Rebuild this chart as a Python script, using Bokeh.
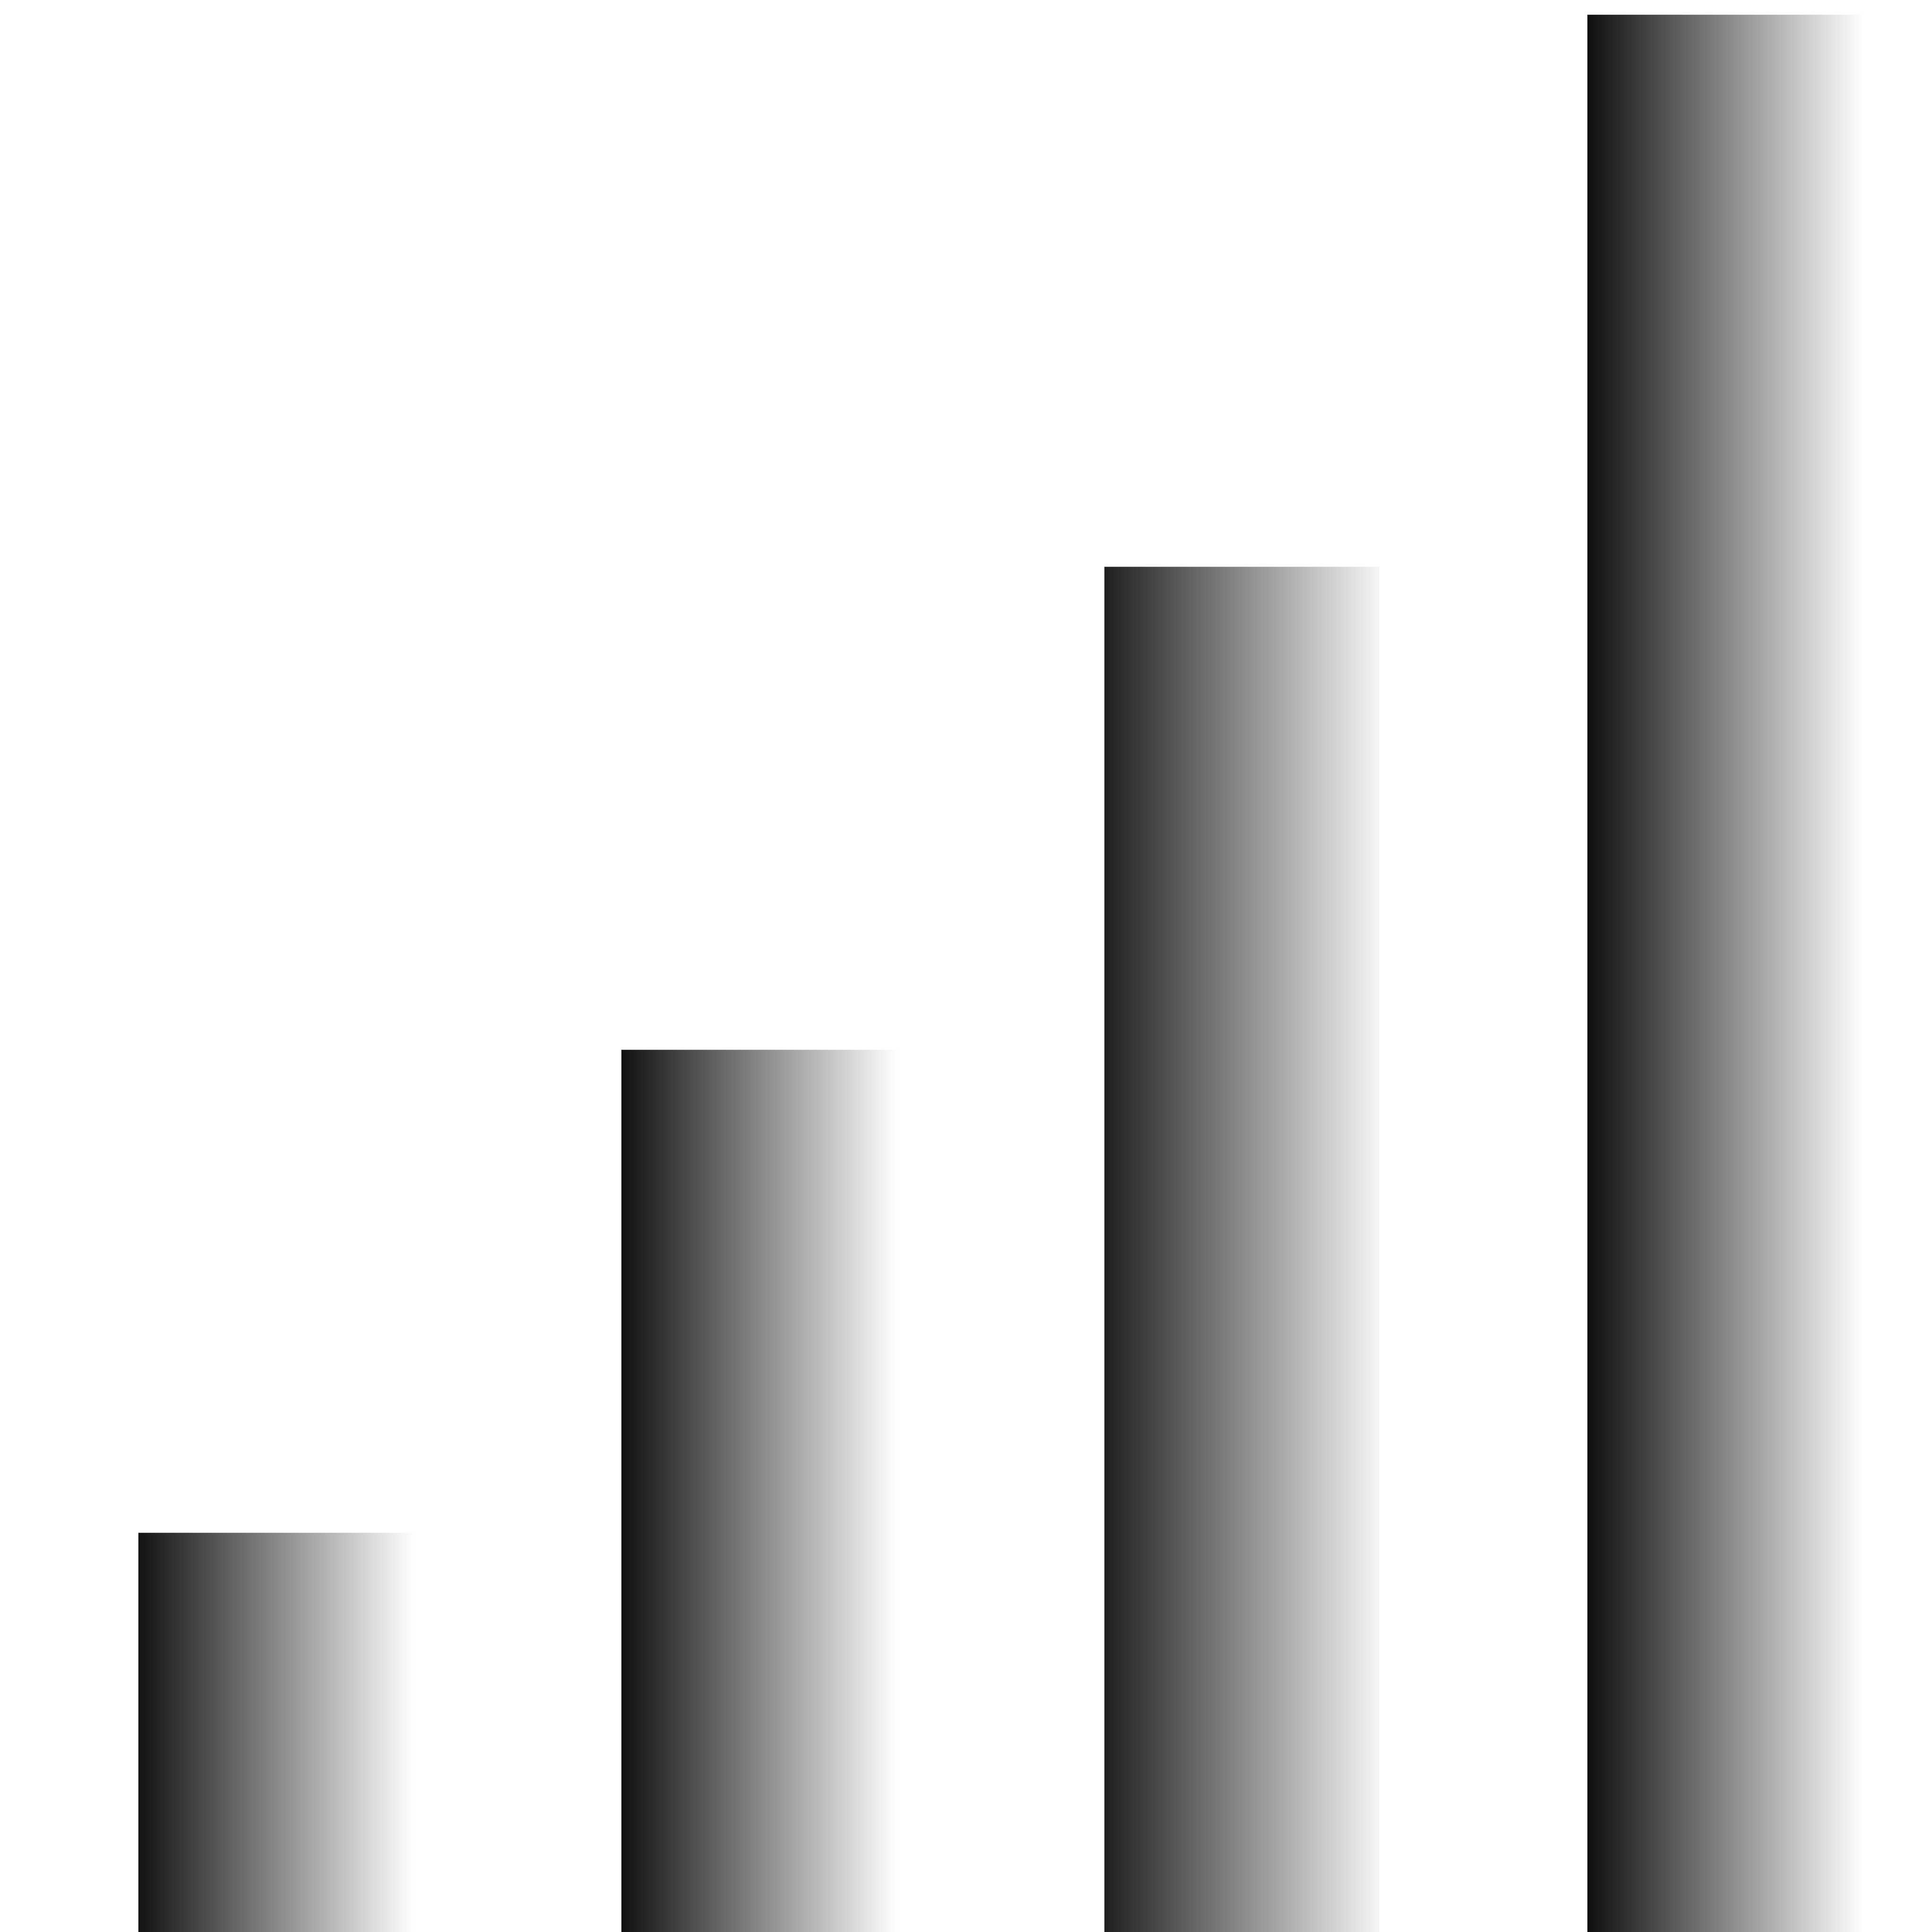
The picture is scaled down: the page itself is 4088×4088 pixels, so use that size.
import numpy as np
from bokeh.plotting import figure
from bokeh.models import Range1d
from bokeh.embed import file_html
from bokeh.resources import INLINE

# ---- data ----
categories = ["1", "2", "3", "4"]
values = [1.0, 2.0, 3.0, 4.143]
y_start = 0.173
y_end = 4.173
x_start = -0.5705
x_end = 3.4295
bar_width = 0.569

# ---- style: gradient end greys per bar ----
gray_left = [19, 17, 32, 15]
gray_right = [255, 255, 246, 255]

W = 4088
H = 4088

p = figure(width=W, height=H,
           x_range=Range1d(x_start, x_end), y_range=Range1d(y_start, y_end),
           output_backend="svg", toolbar_location=None, min_border=0,
           x_axis_location=None, y_axis_location=None)
p.grid.visible = False
p.outline_line_color = None
p.background_fill_color = "white"
p.border_fill_color = "white"


def gradient(gl, gr, n=600):
    img = np.empty((2, n), dtype=np.uint32)
    view = img.view(dtype=np.uint8).reshape((2, n, 4))
    t = (np.arange(n) + 0.5) / n
    g = np.clip(gl + (gr - gl) * t, 0, 255).astype(np.uint8)
    for r in range(2):
        view[r, :, 0] = g
        view[r, :, 1] = g
        view[r, :, 2] = g
        view[r, :, 3] = 255
    return img


images = [gradient(gl, gr) for gl, gr in zip(gray_left, gray_right)]
xs = [i - bar_width / 2 for i in range(len(categories))]
p.image_rgba(image=images, x=xs, y=[y_start] * len(values),
             dw=[bar_width] * len(values), dh=[v - y_start for v in values])

open("out.html", "w").write(file_html(p, INLINE))
